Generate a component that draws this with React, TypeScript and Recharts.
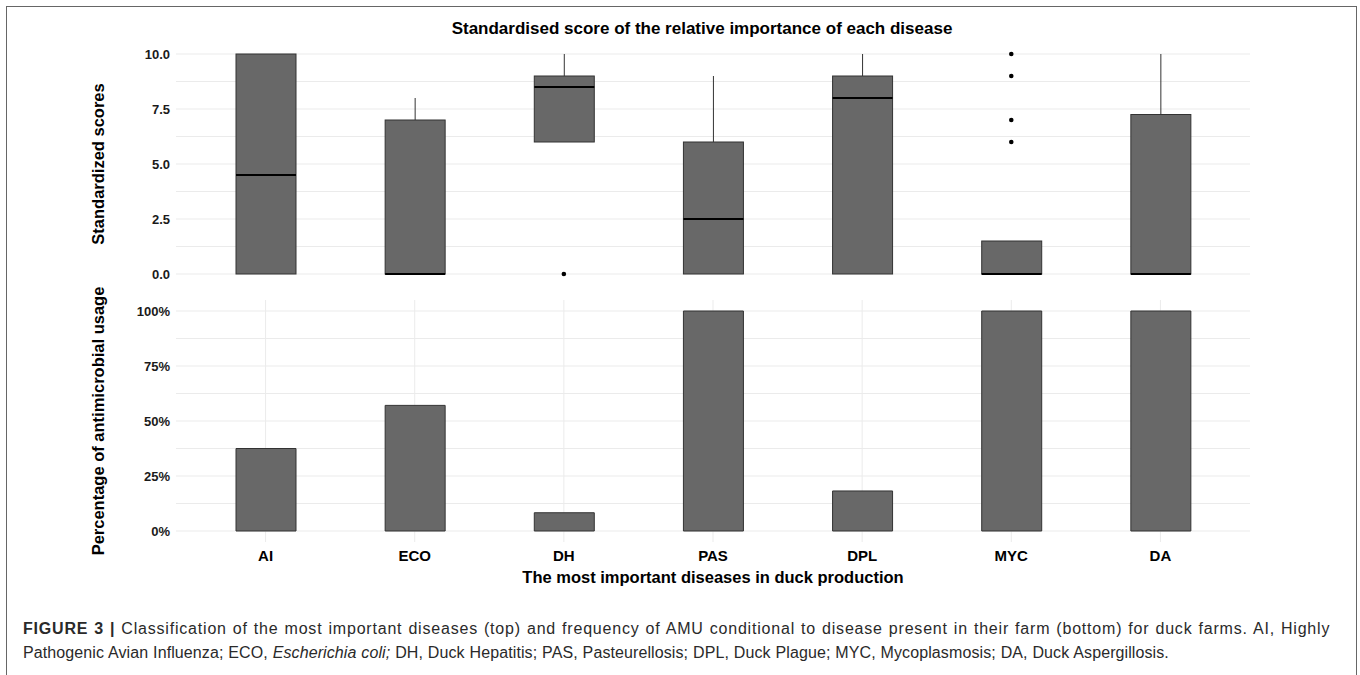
import { ComposedChart, Bar, Line, XAxis, YAxis, CartesianGrid } from 'recharts';

const diseases = ['AI', 'ECO', 'DH', 'PAS', 'DPL', 'MYC', 'DA'];

// boxplot stats of the standardised scores
const whiskerLow = [0, 0, 6, 0, 0, 0, 0];
const q1 = [0, 0, 6, 0, 0, 0, 0];
const median = [4.5, 0, 8.5, 2.5, 8, 0, 0];
const q3 = [10, 7, 9, 6, 9, 1.5, 7.25];
const whiskerHigh = [10, 8, 10, 9, 10, 1.5, 10];
const outliers = [[], [], [0], [], [], [10, 9, 7, 6], []];

// share of farms using antimicrobials for each disease
const amuShare = [0.375, 0.571, 0.083, 1, 0.182, 1, 1];

const scoreTicks = [0, 1.25, 2.5, 3.75, 5, 6.25, 7.5, 8.75, 10];
const pctTicks = [0, 0.125, 0.25, 0.375, 0.5, 0.625, 0.75, 0.875, 1];

const FONT = '"Liberation Sans", Arial, sans-serif';
const BOX_FILL = '#686868';
const BOX_STROKE = '#333333';

const boxRows = diseases.map((d, i) => {
  const row: Record<string, unknown> = {
    name: d,
    box: [q1[i], q3[i]],
    lo: whiskerLow[i],
    q1: q1[i],
    med: median[i],
    q3: q3[i],
    hi: whiskerHigh[i],
  };
  outliers[i].forEach((v, k) => {
    row['o' + k] = v;
  });
  return row;
});

const amuRows = diseases.map((d, i) => ({ name: d, share: amuShare[i] }));

// box drawn from the bar's own pixel extent (q1..q3), the rest interpolated
function BoxShape(props: any) {
  const { x, y, width, height, payload } = props;
  if (height == null || !payload) return null;
  const span = payload.q3 - payload.q1;
  const ppu = span > 0 ? height / span : 0;
  const cx = x + width / 2;
  const yMed = y + (payload.q3 - payload.med) * ppu;
  const yHi = y - (payload.hi - payload.q3) * ppu;
  const yLo = y + height + (payload.q1 - payload.lo) * ppu;
  return (
    <g>
      {payload.hi > payload.q3 && <line x1={cx} x2={cx} y1={yHi} y2={y} stroke={BOX_STROKE} strokeWidth={1} />}
      {payload.lo < payload.q1 && <line x1={cx} x2={cx} y1={y + height} y2={yLo} stroke={BOX_STROKE} strokeWidth={1} />}
      <rect x={x} y={y} width={width} height={height} fill={BOX_FILL} stroke={BOX_STROKE} strokeWidth={1} />
      <line x1={x} x2={x + width} y1={yMed} y2={yMed} stroke="#000" strokeWidth={2} />
    </g>
  );
}

const tickStyle = { fontSize: 13, fontWeight: 700, fill: '#1a1a1a', fontFamily: FONT };

const axisTitle: React.CSSProperties = {
  position: 'absolute',
  fontFamily: FONT,
  fontWeight: 700,
  fontSize: 16.5,
  color: '#000',
  whiteSpace: 'nowrap',
};

export default function App() {
  return (
    <div style={{ position: 'absolute', left: 0, top: 0, width: 1360, height: 675, overflow: 'hidden', background: '#fff' }}>
      {/* figure frame */}
      <div style={{ position: 'absolute', left: 6, top: 6, width: 1349, height: 720, borderTop: '1.5px solid #666', borderLeft: '1.5px solid #666', borderRight: '1.5px solid #666' }} />

      <div style={{ ...axisTitle, left: 0, width: 1404, top: 19, textAlign: 'center', fontSize: 17 }}>
        Standardised score of the relative importance of each disease
      </div>

      <div style={{ ...axisTitle, left: 98, top: 164, transform: 'translate(-50%, -50%) rotate(-90deg)' }}>
        Standardized scores
      </div>
      <div style={{ ...axisTitle, left: 98, top: 421, transform: 'translate(-50%, -50%) rotate(-90deg)' }}>
        Percentage of antimicrobial usage
      </div>

      {/* top panel: boxplots */}
      <div style={{ position: 'absolute', left: 0, top: 0 }}>
        <ComposedChart width={1360} height={300} data={boxRows} margin={{ top: 43, right: 110, bottom: 15, left: 116 }}>
          <CartesianGrid stroke="#ebebeb" strokeWidth={1} syncWithTicks />
          <XAxis dataKey="name" height={0} tick={false} axisLine={false} tickLine={false} padding={{ left: 15, right: 15 }} />
          <YAxis
            domain={[-0.5, 10.5]}
            ticks={scoreTicks}
            width={60}
            axisLine={false}
            tickLine={false}
            tickMargin={0}
            tick={tickStyle}
            tickFormatter={(v: number) => (v % 2.5 === 0 ? v.toFixed(1) : '')}
          />
          <Bar dataKey="box" barSize={60} shape={<BoxShape />} isAnimationActive={false} />
          {[0, 1, 2, 3].map((k) => (
            <Line
              key={k}
              dataKey={'o' + k}
              stroke="none"
              dot={{ r: 2.3, fill: '#000', stroke: '#000', strokeWidth: 0 }}
              activeDot={false}
              isAnimationActive={false}
            />
          ))}
        </ComposedChart>
      </div>

      {/* bottom panel: antimicrobial usage */}
      <div style={{ position: 'absolute', left: 0, top: 286 }}>
        <ComposedChart width={1360} height={314} data={amuRows} margin={{ top: 14, right: 110, bottom: 28, left: 116 }}>
          <CartesianGrid stroke="#ebebeb" strokeWidth={1} syncWithTicks />
          <XAxis
            dataKey="name"
            height={30}
            axisLine={false}
            tickLine={false}
            tickMargin={2}
            padding={{ left: 15, right: 15 }}
            tick={{ ...tickStyle, fontSize: 15, fill: '#000' }}
          />
          <YAxis
            domain={[-0.05, 1.05]}
            ticks={pctTicks}
            width={60}
            axisLine={false}
            tickLine={false}
            tickMargin={0}
            tick={tickStyle}
            tickFormatter={(v: number) => (Math.round(v * 1000) % 250 === 0 ? `${Math.round(v * 100)}%` : '')}
          />
          <Bar dataKey="share" barSize={60} fill={BOX_FILL} stroke={BOX_STROKE} strokeWidth={1} isAnimationActive={false} />
        </ComposedChart>
      </div>

      <div style={{ ...axisTitle, left: 0, width: 1426, top: 568, textAlign: 'center' }}>
        The most important diseases in duck production
      </div>

      {/* caption */}
      <div style={{ position: 'absolute', left: 23, top: 617, fontFamily: FONT, fontSize: 16, color: '#2a2a2a', lineHeight: '24px', whiteSpace: 'nowrap' }}>
        <div style={{ letterSpacing: 0.8, wordSpacing: 0.8 }}>
          <b>FIGURE 3 |</b> Classification of the most important diseases (top) and frequency of AMU conditional to disease present in their farm (bottom) for duck farms. AI, Highly
        </div>
        <div style={{ letterSpacing: 0.1, wordSpacing: 0.3 }}>
          Pathogenic Avian Influenza; ECO, <i>Escherichia coli;</i> DH, Duck Hepatitis; PAS, Pasteurellosis; DPL, Duck Plague; MYC, Mycoplasmosis; DA, Duck Aspergillosis.
        </div>
      </div>
    </div>
  );
}
